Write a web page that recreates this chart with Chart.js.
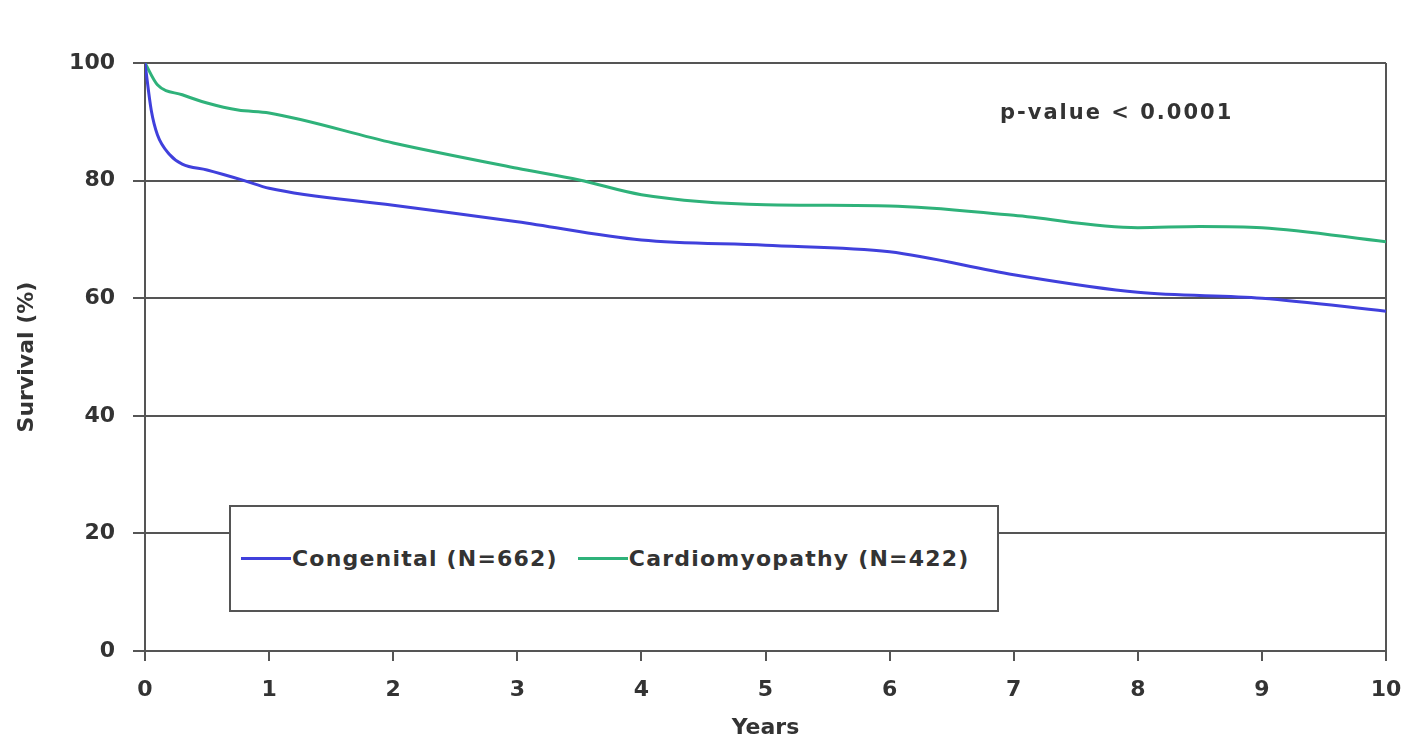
<!DOCTYPE html>
<html>
<head>
<meta charset="utf-8">
<script src="https://cdn.jsdelivr.net/npm/chart.js@4"></script>
<style>
  body { margin: 0; background: #fff; }
  #wrap { position: relative; width: 1405px; height: 741px; }
  #legendBox {
    position: absolute; left: 229px; top: 505px; width: 756px; height: 103px;
    border: 2px solid #555; background: #fff;
    font: bold 22px "DejaVu Sans", sans-serif; color: #333; letter-spacing: 1.2px;
    display: flex; align-items: center; padding-left: 10px;
  }
  .item { display: flex; align-items: center; margin-right: 20px; }
  .swatch { width: 50px; height: 3px; margin-right: 1px; }
  #pval {
    position: absolute; left: 1000px; top: 100px;
    font: bold 21px "DejaVu Sans", sans-serif; color: #333; letter-spacing: 2px;
  }
</style>
</head>
<body>
<div id="wrap">
  <canvas id="chart" width="1405" height="741"></canvas>
  <div id="pval">p-value &lt; 0.0001</div>
  <div id="legendBox"></div>
</div>
<script>
// survival data
const years = [0, 0.05, 0.1, 0.2, 0.3, 0.5, 0.8, 1, 2, 3, 4, 5, 6, 7, 8, 9, 10];
const congenital = [100, 92, 87.8, 84.4, 82.8, 81.8, 80, 78.7, 75.8, 73, 69.9, 69, 67.9, 64, 61, 60, 57.8];
const cardioYears = [0, 0.1, 0.3, 0.5, 0.75, 1, 2, 3, 3.5, 4, 5, 6, 7, 8, 8.5, 9, 10];
const cardiomyopathy = [100, 96.3, 94.6, 93.2, 92, 91.5, 86.4, 82.1, 80.1, 77.6, 75.9, 75.7, 74.1, 72, 72.2, 72, 69.6];
const seriesNames = ["Congenital (N=662)", "Cardiomyopathy (N=422)"];
const seriesColors = ["#4040dc", "#2fb27a"];
const yTicks = [0, 20, 40, 60, 80, 100];
const xTicks = [0, 1, 2, 3, 4, 5, 6, 7, 8, 9, 10];

const font = { family: "'DejaVu Sans', sans-serif", size: 22, weight: "bold" };

function toPoints(xs, ys) {
  return xs.map((x, i) => ({ x: x, y: ys[i] }));
}

new Chart(document.getElementById("chart"), {
  type: "line",
  data: {
    datasets: [
      {
        label: seriesNames[0],
        data: toPoints(years, congenital),
        borderColor: seriesColors[0],
        borderWidth: 3,
        pointRadius: 0,
        cubicInterpolationMode: "monotone",
      },
      {
        label: seriesNames[1],
        data: toPoints(cardioYears, cardiomyopathy),
        borderColor: seriesColors[1],
        borderWidth: 3,
        pointRadius: 0,
        cubicInterpolationMode: "monotone",
      },
    ],
  },
  options: {
    responsive: false,
    animation: false,
    layout: { padding: { top: 63, right: 19, left: 0, bottom: 0 } },
    plugins: {
      legend: { display: false },
      tooltip: { enabled: false },
    },
    scales: {
      x: {
        type: "linear",
        min: 0,
        max: 10,
        afterBuildTicks: (s) => { s.ticks = xTicks.map((v) => ({ value: v })); },
        afterFit: (s) => { s.height = 90; s.paddingLeft = 0; s.paddingRight = 0; },
        ticks: { color: "#333", font: font, padding: 16 },
        grid: {
          color: (c) => (c.tick && (c.tick.value === 0 || c.tick.value === 10) ? "#555" : "rgba(0,0,0,0)"),
          tickColor: "#555",
          tickLength: 10,
          lineWidth: 2,
        },
        border: { color: "#555", width: 2 },
        title: { display: true, text: "Years", color: "#333", font: font, padding: { top: 0, bottom: 0 } },
      },
      y: {
        min: 0,
        max: 100,
        afterBuildTicks: (s) => { s.ticks = yTicks.map((v) => ({ value: v })); },
        afterFit: (s) => { s.width = 145; s.paddingTop = 0; s.paddingBottom = 0; },
        ticks: { color: "#333", font: font, padding: 18 },
        grid: { color: "#555", tickColor: "#555", tickLength: 12, lineWidth: 2 },
        border: { color: "#555", width: 2 },
        title: { display: true, text: "Survival (%)", color: "#333", font: font, padding: { top: 14, bottom: 0 } },
      },
    },
  },
});

const legendBox = document.getElementById("legendBox");
seriesNames.forEach((name, i) => {
  const item = document.createElement("div");
  item.className = "item";
  item.innerHTML = '<span class="swatch" style="background:' + seriesColors[i] + '"></span>' + name;
  legendBox.appendChild(item);
});
</script>
</body>
</html>
